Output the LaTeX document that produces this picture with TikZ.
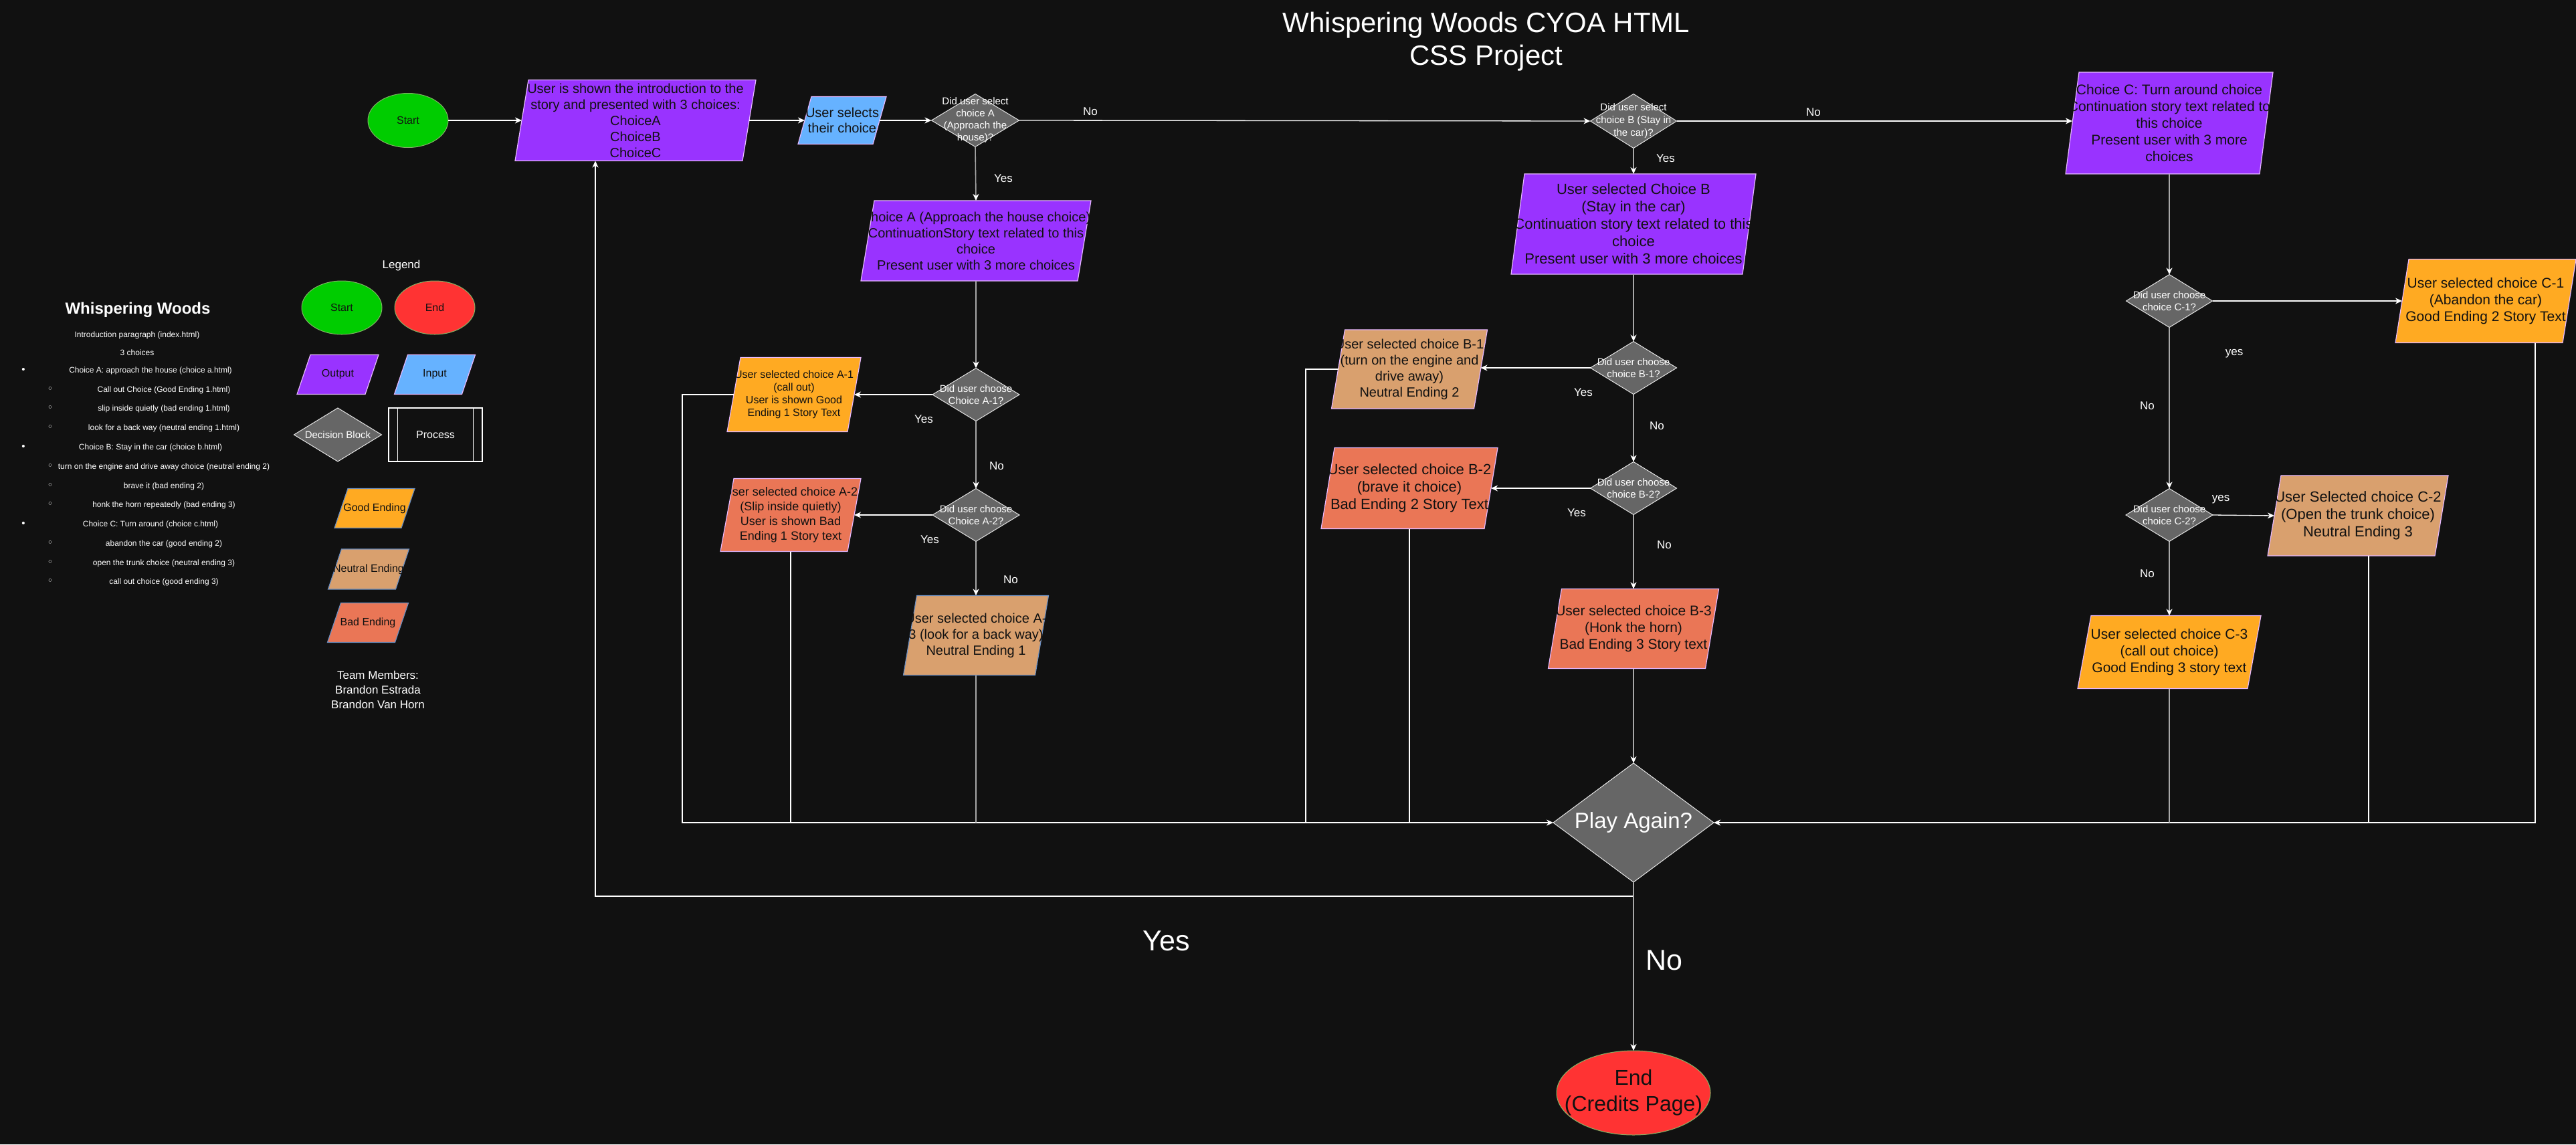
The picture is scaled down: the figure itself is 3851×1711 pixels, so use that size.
\documentclass[tikz,border=0pt]{standalone}
\usepackage{fontspec}
\setmainfont{Liberation Sans}
\newfontfamily\djv{DejaVu Sans}
\usetikzlibrary{shapes.geometric,arrows.meta,calc}
\definecolor{bgc}{HTML}{111111}
\definecolor{txtd}{HTML}{111111}
\definecolor{startg}{HTML}{00CC00}
\definecolor{endr}{HTML}{FF3333}
\definecolor{ovl}{HTML}{82B366}
\definecolor{purp}{HTML}{9933FF}
\definecolor{inblue}{HTML}{66B2FF}
\definecolor{decf}{HTML}{666666}
\definecolor{decl}{HTML}{E6E6E6}
\definecolor{goodc}{HTML}{FFAA22}
\definecolor{neutc}{HTML}{D9A06E}
\definecolor{badc}{HTML}{EA7656}
\definecolor{pgb}{HTML}{E5B8FF}
\definecolor{blb}{HTML}{6C8EBF}
\definecolor{glc}{HTML}{A8A8A8}
\newcommand{\myfs}[2]{\fontsize{#1}{#2}\selectfont}
\tikzset{
  btxt/.style={align=center, text=txtd, inner sep=0},
  wtxt/.style={align=center, text=white, inner sep=0},
  lbl/.style={text=white, inner sep=0, font=\myfs{17}{20}},
  big/.style={text=white, inner sep=0, font=\myfs{43}{50}},
  ltxt/.style={text=white, inner sep=0, font=\myfs{12}{14}},
  sbul/.style={text=white, inner sep=0, font=\djv\myfs{15}{16}},
  decshape/.style={diamond, fill=decf, draw=decl, line width=1, inner sep=0, outer sep=0},
  wl/.style={draw=white, line width=1.3},
  gl/.style={draw=glc, line width=1.6},
  tip/.style={-{Stealth[length=10pt,width=9pt,inset=3pt,color=white]}},
}
\newcommand{\pgram}[9]{%
  \node[minimum width=#4, minimum height=#5, inner sep=0, outer sep=0] (#1) at (#2,#3) {};
  \filldraw[fill=#6, draw=#7, line width=1.2] ({#2-#4/2+10},{#3-#5/2}) -- ({#2+#4/2+10},{#3-#5/2}) -- ({#2+#4/2-10},{#3+#5/2}) -- ({#2-#4/2-10},{#3+#5/2}) -- cycle;
  \node[btxt, font=#8] (#1t) at (#2,#3) {#9};
}
\newcommand{\decnode}[7]{%
  \node[decshape, minimum width=#4, minimum height=#5] (#1) at (#2,#3) {};
  \node[wtxt, font=#6] (#1t) at (#2,#3) {#7};
}
\newcommand{\ovalnode}[8]{%
  \node[ellipse, fill=#6, draw=ovl, line width=1, minimum width=#4, minimum height=#5, inner sep=0, outer sep=0] (#1) at (#2,#3) {};
  \node[btxt, font=#7] (#1t) at (#2,#3) {#8};
}
\begin{document}
\begin{tikzpicture}[x=1pt,y=-1pt]
\useasboundingbox (0,0) rectangle (3851,1711);
\fill[bgc] (0,0) rectangle (3851,1711);

% title
\node[wtxt, font=\myfs{42}{49}] (title) at (2222,62) {Whispering Woods CYOA HTML\\CSS Project};

% main flow top row
\ovalnode{start}{610}{180}{120}{81}{startg}{\myfs{16}{19}}{Start}
\pgram{intro}{950}{180}{340}{121}{purp}{pgb}{\myfs{20}{24}}{User is shown the introduction to the\\story and presented with 3 choices:\\ChoiceA\\ChoiceB\\ChoiceC}
\pgram{input}{1259}{180}{112}{71}{inblue}{pgb}{\myfs{20}{23}}{User selects\\their choice}
\decnode{decA}{1458}{180}{131}{79}{\myfs{15}{18}}{Did user select\\choice A\\(Approach the\\house)?}
\decnode{decB}{2442}{181}{129}{81}{\myfs{15}{19}}{Did user select\\choice B (Stay in\\the car)?}
\pgram{cbox}{3243}{184}{290}{152}{purp}{pgb}{\myfs{21}{25}}{Choice C: Turn around choice\\Continuation story text related to\\this choice\\Present user with 3 more\\choices}

% A branch
\pgram{abox}{1459}{360}{324}{120}{purp}{pgb}{\myfs{20}{24}}{Choice A (Approach the house choice)\\ContinuationStory text related to this\\choice\\Present user with 3 more choices}
\decnode{decA1}{1459}{590}{130}{79}{\myfs{15}{18}}{Did user choose\\Choice A-1?}
\pgram{a1}{1187}{590}{180}{111}{goodc}{pgb}{\myfs{16}{19}}{User selected choice A-1\\(call out)\\User is shown Good\\Ending 1 Story Text}
\decnode{decA2}{1459}{770}{130}{79}{\myfs{15}{18}}{Did user choose\\Choice A-2?}
\pgram{a2}{1182}{770}{190}{109}{badc}{pgb}{\myfs{18}{22}}{User selected choice A-2\\(Slip inside quietly)\\User is shown Bad\\Ending 1 Story text}
\pgram{a3}{1459}{950}{197}{119}{neutc}{blb}{\myfs{20}{24}}{User selected choice A-\\3 (look for a back way)\\Neutral Ending 1}

% B branch
\pgram{bbox}{2442}{335}{346}{150}{purp}{pgb}{\myfs{22}{26}}{User selected Choice B\\(Stay in the car)\\Continuation story text related to this\\choice\\Present user with 3 more choices}
\decnode{decB1}{2442}{550}{129}{79}{\myfs{15}{18}}{Did user choose\\choice B-1?}
\pgram{b1}{2107}{552}{213}{118}{neutc}{pgb}{\myfs{20}{24}}{User selected choice B-1\\(turn on the engine and\\drive away)\\Neutral Ending 2}
\decnode{decB2}{2442}{730}{129}{79}{\myfs{15}{18}}{Did user choose\\choice B-2?}
\pgram{b2}{2107}{730}{244}{121}{badc}{pgb}{\myfs{22}{26}}{User selected choice B-2\\(brave it choice)\\Bad Ending 2 Story Text}
\pgram{b3}{2442}{940}{235}{119}{badc}{pgb}{\myfs{21}{25}}{User selected choice B-3\\(Honk the horn)\\Bad Ending 3 Story text}

% C branch
\decnode{decC1}{3243}{450}{129}{79}{\myfs{15}{18}}{Did user choose\\choice C-1?}
\pgram{c1}{3716}{450}{250}{125}{goodc}{pgb}{\myfs{21}{25}}{User selected choice C-1\\(Abandon the car)\\Good Ending 2 Story Text}
\decnode{decC2}{3243}{770}{130}{79}{\myfs{15}{18}}{Did user choose\\choice C-2?}
\pgram{c2}{3525}{771}{250}{120}{neutc}{pgb}{\myfs{22}{26}}{User Selected choice C-2\\(Open the trunk choice)\\Neutral Ending 3}
\pgram{c3}{3243}{975}{254}{109}{goodc}{pgb}{\myfs{21}{25}}{User selected choice C-3\\(call out choice)\\Good Ending 3 story text}

% play again / end
\decnode{play}{2442}{1230}{240}{178}{\myfs{33}{38}}{Play Again?}
\ovalnode{endE}{2442}{1634}{230}{126}{endr}{\myfs{32}{39}}{End\\(Credits Page)}

% junction coordinates
\coordinate (jA) at (1020,1230);
\coordinate (jB) at (1952,1230);
\coordinate (jC) at (3790,1230);
\coordinate (jY) at (890,1340);

% connectors: top row
\draw[wl,tip] (start.east) -- (intro.west);
\draw[wl,tip] (intro.east) -- (input.west);
\draw[wl,tip] (input.east) -- (decA.west);
\draw[wl,tip] (decA.east) -- (decB.west);
\draw[wl,tip] (decB.east) -- (decB.east -| cbox.west);
% A chain
\draw[gl,tip] (decA.south) -- (abox.north);
\draw[gl,tip] (abox.south) -- (decA1.north);
\draw[wl,tip] (decA1.west) -- (a1.east);
\draw[gl,tip] (decA1.south) -- (decA2.north);
\draw[wl,tip] (decA2.west) -- (a2.east);
\draw[gl,tip] (decA2.south) -- (a3.north);
% B chain
\draw[gl,tip] (decB.south) -- (bbox.north);
\draw[gl,tip] (bbox.south) -- (decB1.north);
\draw[wl,tip] (decB1.west) -- (decB1.west -| b1.east);
\draw[gl,tip] (decB1.south) -- (decB2.north);
\draw[wl,tip] (decB2.west) -- (b2.east);
\draw[gl,tip] (decB2.south) -- (b3.north);
\draw[gl,tip] (b3.south) -- (play.north);
% C chain
\draw[gl,tip] (cbox.south) -- (decC1.north);
\draw[wl,tip] (decC1.east) -- (c1.west);
\draw[gl,tip] (decC1.south) -- (decC2.north);
\draw[wl,tip] (decC2.east) -- (c2.west);
\draw[gl,tip] (decC2.south) -- (c3.north);
% joins to Play Again
\draw[wl,tip] (a1.west) -| (jA) -- (play.west);
\draw[wl] (a2.south) -- (a2.south |- jA);
\draw[gl] (a3.south) -- (a3.south |- jA);
\draw[wl] (b1.west) -| (jB);
\draw[wl] (b2.south) -- (b2.south |- jA);
\draw[wl,tip] (c1.south -| jC) -- (jC) -- (play.east);
\draw[wl] ([xshift=16pt]c2.south) -- ([xshift=16pt]c2.south |- jC);
\draw[gl] (c3.south) -- (c3.south |- jC);
% play again outputs
\draw[wl,tip] (play.south) -- (play.south |- jY) -- (jY) -- (jY |- intro.south);
\draw[gl,tip] (play.south) -- (endE.north);

% labels
\node[lbl] (lNoA) at (1630,167) {No};
\node[lbl] (lNoB) at (2711,168) {No};
\node[lbl] (lYesA) at (1500,267) {Yes};
\node[lbl] (lYesB) at (2490,237) {Yes};
\node[lbl] (lYesA1) at (1381,627) {Yes};
\node[lbl] (lNoA1) at (1490,697) {No};
\node[lbl] (lYesA2) at (1390,807) {Yes};
\node[lbl] (lNoA2) at (1511,867) {No};
\node[lbl] (lYesB1) at (2367,587) {Yes};
\node[lbl] (lNoB1) at (2477,637) {No};
\node[lbl] (lYesB2) at (2357,767) {Yes};
\node[lbl] (lNoB2) at (2488,815) {No};
\node[lbl] (lYesC1) at (3340,529) {yes};
\node[lbl] (lNoC1) at (3210,607) {No};
\node[lbl] (lYesC2) at (3320,747) {yes};
\node[lbl] (lNoC2) at (3210,858) {No};
\node[big] (lYesP) at (1744,1407) {Yes};
\node[big] (lNoP) at (2488,1436) {No};

% legend
\node[wtxt, font=\myfs{17}{20}] (legT) at (600,397) {Legend};
\ovalnode{legS}{511}{460}{120}{80}{startg}{\myfs{16}{19}}{Start}
\ovalnode{legE}{650}{460}{120}{80}{endr}{\myfs{16}{19}}{End}
\pgram{legO}{505}{560}{102}{59}{purp}{pgb}{\myfs{16}{19}}{Output}
\pgram{legI}{650}{560}{101}{59}{inblue}{pgb}{\myfs{16}{19}}{Input}
\decnode{legD}{505}{650}{131}{80}{\myfs{15}{18}}{Decision Block}
\node[draw=white, line width=1.2, minimum width=140, minimum height=80, inner sep=0] (legP) at (651,650) {};
\draw[white, line width=1.2] ([xshift=14pt]legP.north west) -- ([xshift=14pt]legP.south west);
\draw[white, line width=1.2] ([xshift=-14pt]legP.north east) -- ([xshift=-14pt]legP.south east);
\node[wtxt, font=\myfs{16}{19}] (legPt) at (legP) {Process};
\pgram{legG}{560}{760}{100}{59}{goodc}{blb}{\myfs{16}{19}}{Good Ending}
\pgram{legN}{551}{851}{101}{60}{neutc}{blb}{\myfs{16}{19}}{Neutral Ending}
\pgram{legB}{550}{931}{101}{59}{badc}{blb}{\myfs{16}{19}}{Bad Ending}
\node[wtxt, font=\myfs{17}{22}] (team) at (565,1031) {Team Members:\\Brandon Estrada\\Brandon Van Horn};

% left text panel
\node[wtxt, font=\bfseries\myfs{24}{28}] (ww) at (206,463) {Whispering Woods};
\node[ltxt] (l1) at (205,501) {Introduction paragraph (index.html)};
\node[ltxt] (l2) at (205,527) {3 choices};
\node[ltxt, font=\myfs{15}{16}] (bu1) at (35,554) {•};
\node[ltxt] (l3) at (225,554) {Choice A: approach the house (choice a.html)};
\node[sbul] (sb1) at (75,583) {◦};
\node[ltxt] (l4) at (245,583) {Call out Choice (Good Ending 1.html)};
\node[sbul] (sb2) at (75,611) {◦};
\node[ltxt] (l5) at (245,611) {slip inside quietly (bad ending 1.html)};
\node[sbul] (sb3) at (75,640) {◦};
\node[ltxt] (l6) at (245,640) {look for a back way (neutral ending 1.html)};
\node[ltxt, font=\myfs{15}{16}] (bu2) at (35,669) {•};
\node[ltxt] (l7) at (225,669) {Choice B: Stay in the car (choice b.html)};
\node[sbul] (sb4) at (75,698) {◦};
\node[ltxt] (l8) at (245,698) {turn on the engine and drive away choice (neutral ending 2)};
\node[sbul] (sb5) at (75,727) {◦};
\node[ltxt] (l9) at (245,727) {brave it (bad ending 2)};
\node[sbul] (sb6) at (75,755) {◦};
\node[ltxt] (l10) at (245,755) {honk the horn repeatedly (bad ending 3)};
\node[ltxt, font=\myfs{15}{16}] (bu3) at (35,784) {•};
\node[ltxt] (l11) at (225,784) {Choice C: Turn around (choice c.html)};
\node[sbul] (sb7) at (75,813) {◦};
\node[ltxt] (l12) at (245,813) {abandon the car (good ending 2)};
\node[sbul] (sb8) at (75,842) {◦};
\node[ltxt] (l13) at (245,842) {open the trunk choice (neutral ending 3)};
\node[sbul] (sb9) at (75,870) {◦};
\node[ltxt] (l14) at (245,870) {call out choice (good ending 3)};
\end{tikzpicture}
\end{document}
